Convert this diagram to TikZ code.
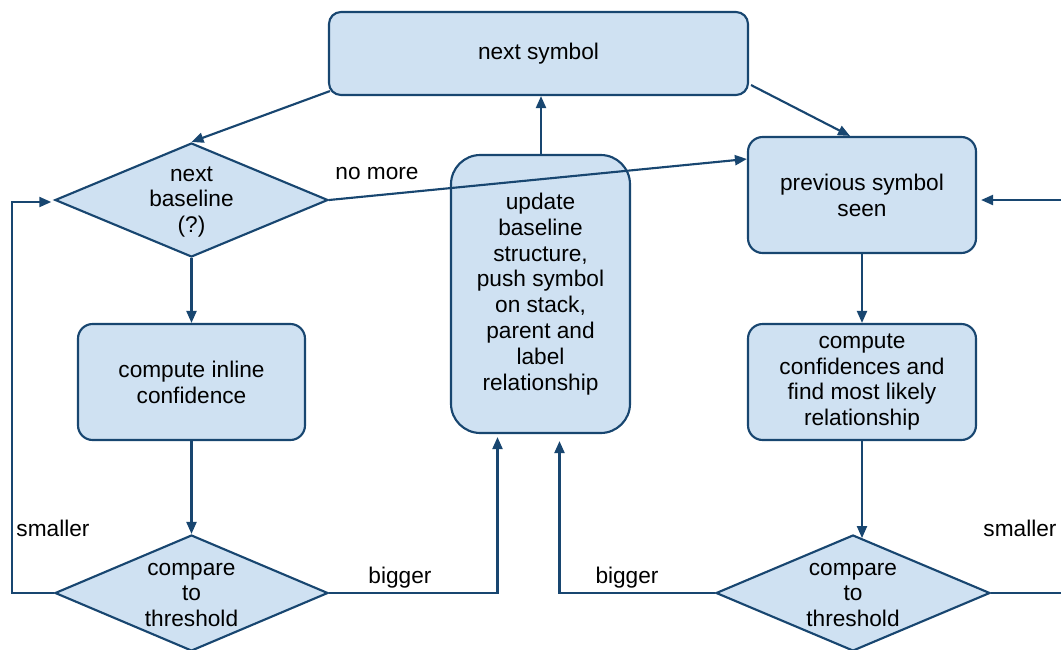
\documentclass[tikz,border=0pt]{standalone}
\usepackage{fontspec}
\setmainfont{Liberation Sans}
\usetikzlibrary{shapes.geometric,arrows.meta}
\definecolor{edge}{RGB}{24,70,112}
\definecolor{boxfill}{RGB}{207,225,242}
\begin{document}
\begin{tikzpicture}[x=0.75pt,y=-0.75pt,
  every node/.style={font=\fontsize{17}{19.4}\selectfont},
  box/.style={draw=edge,fill=boxfill,line width=1.6pt,align=center,inner sep=2pt},
  dia/.style={draw=edge,fill=boxfill,line width=1.6pt,shape=diamond,inner sep=0pt},
  txt/.style={align=center,inner sep=0pt},
  lbl/.style={inner sep=0pt},
  conn/.style={draw=edge,line width=1.6pt,-{Triangle[length=9pt,width=7.5pt]}},
  plain/.style={draw=edge,line width=1.6pt}]
\useasboundingbox (0,0) rectangle (1061,650);

% boxes
\node[box,rounded corners=9pt,minimum width=314.25pt,minimum height=62.25pt] (top) at (538.5,53.5) {next symbol};
\node[box,rounded corners=11pt,minimum width=171pt,minimum height=87pt] (prev) at (862,195) {previous symbol\\seen};
\node[box,rounded corners=11pt,minimum width=170.25pt,minimum height=87pt] (ci) at (191.5,382) {compute inline\\confidence};
\node[box,rounded corners=11pt,minimum width=171pt,minimum height=87pt] (cc) at (862,382) {compute\\confidences and\\find most likely\\relationship};

% decisions
\node[dia,minimum width=204.75pt,minimum height=85.5pt] (nb) at (191.5,200) {};
\node[txt] (nbt) at ([yshift=-1.5pt]nb) {next\\baseline\\(?)};
\node[dia,minimum width=204.75pt,minimum height=87pt] (c1) at (191.5,593) {};
\node[txt] (c1t) at ([yshift=-1.5pt]c1) {compare\\to\\threshold};
\node[dia,minimum width=205.5pt,minimum height=87pt] (c2) at (853,593) {};
\node[txt] (c2t) at ([yshift=-1.5pt]c2) {compare\\to\\threshold};

% loop ends leaving on the right
\coordinate (rout) at (1061,593);
\coordinate (rin) at (1061,200);
\coordinate (lcorner1) at (12,593);
\coordinate (lcorner2) at (12,202);

% connectors
\draw[conn] ([shift={(2,-5)}]top.south west) -- (nb.north);
\draw[conn] ([shift={(2,-11)}]top.south east) -- ([xshift=-9pt]prev.north);
\draw[conn] (nb.south) -- (ci.north);
\draw[conn] (ci.south) -- (c1.north);
\draw[conn] (prev.south) -- (cc.north);
\draw[conn] (cc.south) -- ++(0,97);
\draw[conn] (rin) -- ([xshift=3pt]prev.east |- rin);
\draw[plain] (c2.east) -- (rout);
\draw[conn] (c1.west) -- (lcorner1) -- (lcorner2) -- ([xshift=-2pt]nb.west |- lcorner2);

% update box, drawn before the crossing "no more" line
\node[box,rounded corners=22pt,minimum width=134.25pt,minimum height=208.5pt] (upd) at (540.5,294) {update\\baseline\\structure,\\push symbol\\on stack,\\parent and\\label\\relationship};
\draw[conn] (upd.north -| 541,0) -- (top.south -| 541,0);
\draw[conn] (c1.east) -| ([shift={(-43,3)}]upd.south);
\draw[conn] (c2.west) -| ([shift={(19,7)}]upd.south);
\draw[conn] (nb.east) -- ([yshift=27pt]prev.west);

% edge labels
\node[lbl] (lnomore) at (377,174) {no more};
\node[lbl] (lsm1) at (53,528) {smaller};
\node[lbl] (lsm2) at (1020,528) {smaller};
\node[lbl] (lbig1) at (400,578) {bigger};
\node[lbl] (lbig2) at (627,578) {bigger};
\end{tikzpicture}
\end{document}
